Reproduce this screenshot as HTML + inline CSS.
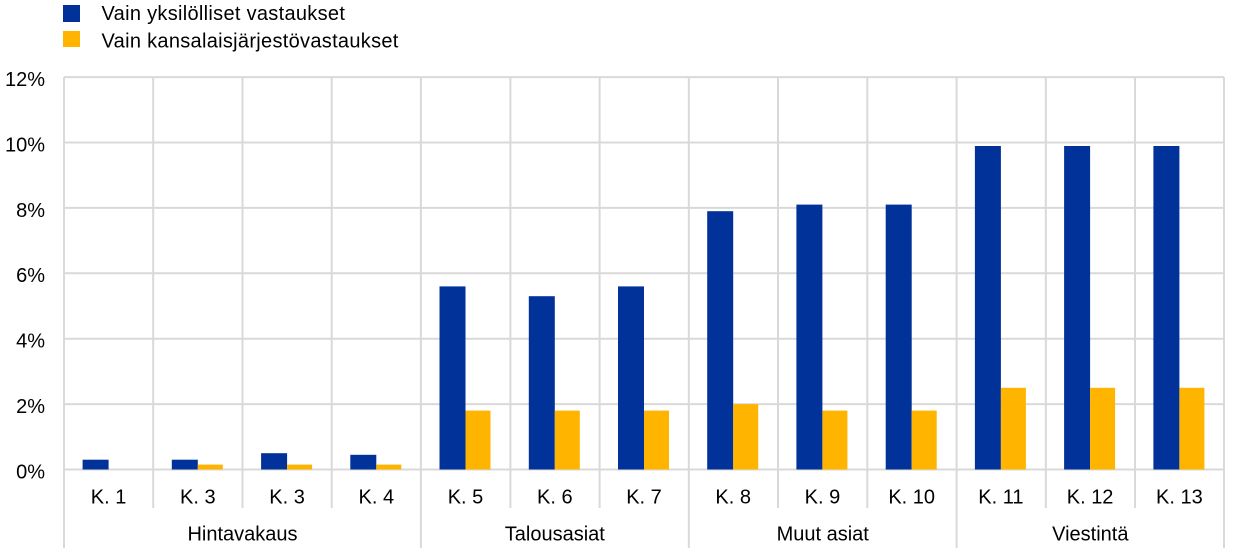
<!DOCTYPE html>
<html>
<head>
<meta charset="utf-8">
<style>
html,body{margin:0;padding:0;background:#fff;}
svg{display:block;}
text{font-family:"Liberation Sans",Arial,sans-serif;fill:#000;}
</style>
</head>
<body>
<svg width="1240" height="550" viewBox="0 0 1240 550" xmlns="http://www.w3.org/2000/svg">
  <!-- Legend -->
  <rect x="63" y="5" width="17" height="17" fill="#003299"/>
  <rect x="63" y="31" width="17" height="16" fill="#FFB400"/>
  <text x="101.5" y="20" font-size="20" letter-spacing="0.3">Vain yksilölliset vastaukset</text>
  <text x="101.5" y="47.5" font-size="20" letter-spacing="0.3">Vain kansalaisjärjestövastaukset</text>

  <!-- Horizontal gridlines -->
  <g stroke="#d9d9d9" stroke-width="2">
    <line x1="64" y1="77.1" x2="1224" y2="77.1"/>
    <line x1="64" y1="142.5" x2="1224" y2="142.5"/>
    <line x1="64" y1="207.9" x2="1224" y2="207.9"/>
    <line x1="64" y1="273.3" x2="1224" y2="273.3"/>
    <line x1="64" y1="338.7" x2="1224" y2="338.7"/>
    <line x1="64" y1="404.1" x2="1224" y2="404.1"/>
    <line x1="64" y1="469.5" x2="1224" y2="469.5"/>
  </g>
  <!-- Vertical gridlines (category ticks) -->
  <g stroke="#d9d9d9" stroke-width="2">
    <line x1="153.2" y1="77" x2="153.2" y2="508"/>
    <line x1="242.5" y1="77" x2="242.5" y2="508"/>
    <line x1="331.7" y1="77" x2="331.7" y2="508"/>
    <line x1="510.4" y1="77" x2="510.4" y2="508"/>
    <line x1="599.6" y1="77" x2="599.6" y2="508"/>
    <line x1="778.0" y1="77" x2="778.0" y2="508"/>
    <line x1="867.3" y1="77" x2="867.3" y2="508"/>
    <line x1="1045.8" y1="77" x2="1045.8" y2="508"/>
    <line x1="1135.0" y1="77" x2="1135.0" y2="508"/>
    <!-- group separators -->
    <line x1="64" y1="77" x2="64" y2="548"/>
    <line x1="420.9" y1="77" x2="420.9" y2="548"/>
    <line x1="688.8" y1="77" x2="688.8" y2="548"/>
    <line x1="956.6" y1="77" x2="956.6" y2="548"/>
    <line x1="1224" y1="77" x2="1224" y2="548"/>
  </g>

  <!-- Y labels -->
  <g font-size="20" text-anchor="end">
    <text x="45" y="86">12%</text>
    <text x="45" y="151.4">10%</text>
    <text x="45" y="216.8">8%</text>
    <text x="45" y="282.2">6%</text>
    <text x="45" y="347.6">4%</text>
    <text x="45" y="413">2%</text>
    <text x="45" y="478.4">0%</text>
  </g>

  <!-- Bars: blue -->
  <g fill="#003299">
    <rect x="82.6" y="459.7" width="26" height="9.8"/>
    <rect x="171.8" y="459.7" width="26" height="9.8"/>
    <rect x="261.1" y="453.2" width="26" height="16.3"/>
    <rect x="350.3" y="454.8" width="26" height="14.7"/>
    <rect x="439.5" y="286.4" width="26" height="183.1"/>
    <rect x="528.8" y="296.2" width="26" height="173.3"/>
    <rect x="618.0" y="286.4" width="26" height="183.1"/>
    <rect x="707.2" y="211.2" width="26" height="258.3"/>
    <rect x="796.4" y="204.6" width="26" height="264.9"/>
    <rect x="885.7" y="204.6" width="26" height="264.9"/>
    <rect x="974.9" y="146.0" width="26" height="323.5"/>
    <rect x="1064.1" y="146.0" width="26" height="323.5"/>
    <rect x="1153.4" y="146.0" width="26" height="323.5"/>
  </g>
  <!-- Bars: orange -->
  <g fill="#FFB400">
    <rect x="197.8" y="464.6" width="25" height="4.9"/>
    <rect x="287.1" y="464.6" width="25" height="4.9"/>
    <rect x="376.3" y="464.6" width="25" height="4.9"/>
    <rect x="465.5" y="410.6" width="25" height="58.9"/>
    <rect x="554.8" y="410.6" width="25" height="58.9"/>
    <rect x="644.0" y="410.6" width="25" height="58.9"/>
    <rect x="733.2" y="404.1" width="25" height="65.4"/>
    <rect x="822.4" y="410.6" width="25" height="58.9"/>
    <rect x="911.7" y="410.6" width="25" height="58.9"/>
    <rect x="1000.9" y="387.8" width="25" height="81.7"/>
    <rect x="1090.1" y="387.8" width="25" height="81.7"/>
    <rect x="1179.4" y="387.8" width="25" height="81.7"/>
  </g>

  <!-- Category labels -->
  <g font-size="20" text-anchor="middle">
    <text x="108.6" y="503.3">K. 1</text>
    <text x="197.8" y="503.3">K. 3</text>
    <text x="287.1" y="503.3">K. 3</text>
    <text x="376.3" y="503.3">K. 4</text>
    <text x="465.5" y="503.3">K. 5</text>
    <text x="554.8" y="503.3">K. 6</text>
    <text x="644.0" y="503.3">K. 7</text>
    <text x="733.2" y="503.3">K. 8</text>
    <text x="822.4" y="503.3">K. 9</text>
    <text x="911.7" y="503.3">K. 10</text>
    <text x="1000.9" y="503.3">K. 11</text>
    <text x="1090.1" y="503.3">K. 12</text>
    <text x="1179.4" y="503.3">K. 13</text>
  </g>
  <!-- Group labels -->
  <g font-size="20" text-anchor="middle">
    <text x="242.5" y="540.7">Hintavakaus</text>
    <text x="554.8" y="540.7">Talousasiat</text>
    <text x="822.7" y="540.7">Muut asiat</text>
    <text x="1090.3" y="540.7">Viestintä</text>
  </g>
</svg>
</body>
</html>
